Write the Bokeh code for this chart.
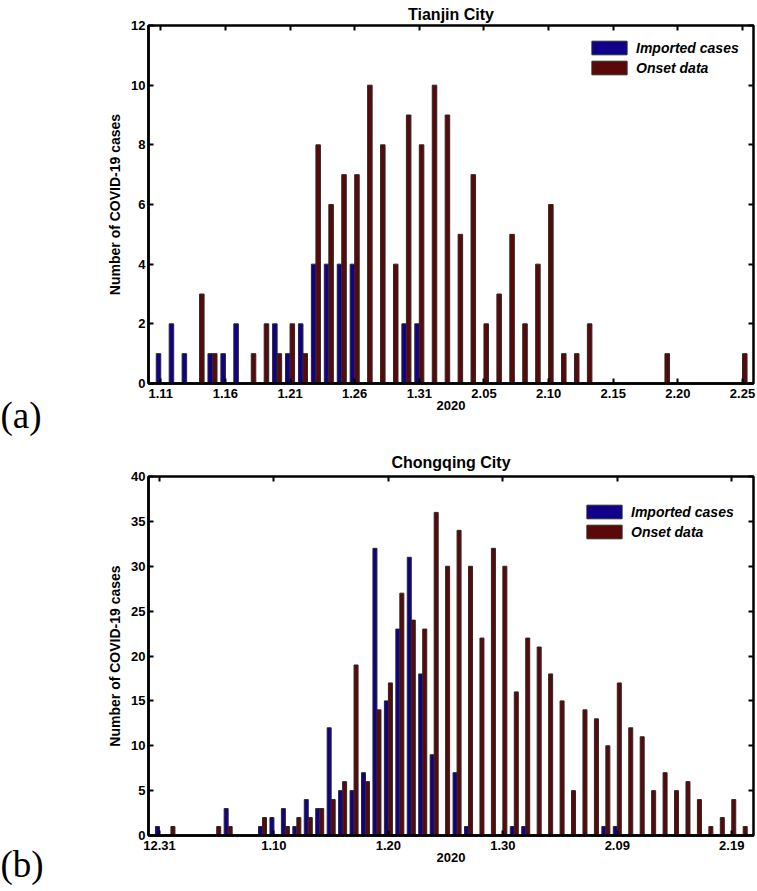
from bokeh.plotting import figure
from bokeh.models import (Range1d, FixedTicker, LinearAxis, Legend, Title,
                          LegendItem, ColumnDataSource)
from bokeh.layouts import column, row
from bokeh.transform import dodge
from bokeh.embed import file_html
from bokeh.resources import INLINE

# ---------------- data ----------------
tj_dates = ([f"1.{d}" for d in range(11, 32)] +
            [f"2.{d:02d}" for d in range(1, 26)])
tj_imported = [1, 2, 1, 0, 1, 1, 2, 0, 0, 2, 1, 2, 4, 4, 4, 4, 0, 0, 0, 2, 2,
               0, 0, 0, 0, 0, 0, 0, 0, 0, 0, 0, 0, 0, 0, 0, 0, 0, 0, 0, 0,
               0, 0, 0, 0, 0]
tj_onset = [0, 0, 0, 3, 1, 0, 0, 1, 2, 1, 2, 1, 8, 6, 7, 7, 10, 8, 4, 9, 8,
            10, 9, 5, 7, 2, 3, 5, 2, 4, 6, 1, 1, 2, 0, 0, 0, 0, 0, 1, 0,
            0, 0, 0, 0, 1]
tj_tick_labels = ["1.11", "1.16", "1.21", "1.26", "1.31",
                  "2.05", "2.10", "2.15", "2.20", "2.25"]
tj_yticks = [0, 2, 4, 6, 8, 10, 12]

cq_dates = (["12.31"] + [f"1.{d:02d}" for d in range(1, 32)] +
            [f"2.{d:02d}" for d in range(1, 21)])
cq_imported = [1, 0, 0, 0, 0, 0, 3, 0, 0, 1, 2, 3, 1, 4, 3, 12, 5, 5, 7, 32,
               15, 23, 31, 18, 9, 0, 7, 1, 0, 0, 0, 1, 1, 0, 0, 0, 0, 0, 0,
               1, 1, 0, 0, 0, 0, 0, 0, 0, 0, 0, 0, 0]
cq_onset = [0, 1, 0, 0, 0, 1, 1, 0, 0, 2, 0, 1, 2, 2, 3, 4, 6, 19, 6, 14,
            17, 27, 24, 23, 36, 30, 34, 30, 22, 32, 30, 16, 22, 21, 18, 15,
            5, 14, 13, 10, 17, 12, 11, 5, 7, 5, 6, 4, 1, 2, 4, 1]
cq_tick_labels = ["12.31", "1.10", "1.20", "1.30", "2.09", "2.19"]
cq_yticks = [0, 5, 10, 15, 20, 25, 30, 35, 40]

BLUE = "#10008a"
RED = "#5a0808"
FONT = "Liberation Sans"
LETTER_W = 50


def letter_panel(letter, height, border_top, border_bottom, standoff):
    q = figure(width=LETTER_W, height=height, output_backend="svg",
               toolbar_location=None, x_axis_type=None, y_axis_type=None,
               x_range=Range1d(0, 1), y_range=Range1d(0, 1),
               min_border_left=0, min_border_right=0,
               min_border_top=border_top, min_border_bottom=border_bottom,
               outline_line_color=None)
    q.xgrid.visible = False
    q.ygrid.visible = False
    q.add_layout(Title(text=letter, align="left", standoff=standoff,
                       text_font="Liberation Serif", text_font_size="37px",
                       text_font_style="normal", text_color="black"),
                 "below")
    return q


def make_panel(title, dates, imported, onset, yticks, tick_labels, xr,
               height, border_top, border_bottom, title_standoff,
               legend_xy):
    src = ColumnDataSource(dict(x=list(range(len(dates))), imp=imported,
                                ons=onset))
    p = figure(width=757 - LETTER_W, height=height, output_backend="svg",
               toolbar_location=None, x_range=Range1d(*xr),
               y_range=Range1d(yticks[0], yticks[-1]),
               min_border_left=148 - LETTER_W, min_border_right=4,
               min_border_top=border_top, min_border_bottom=border_bottom,
               background_fill_color="white", border_fill_color="white")
    p.outline_line_color = "black"
    p.outline_line_width = 2.5
    p.outline_line_alpha = 1
    p.xgrid.visible = False
    p.ygrid.visible = False

    p.title.text = title
    p.title.align = "center"
    p.title.text_font = FONT
    p.title.text_font_style = "bold"
    p.title.text_font_size = "16px"
    p.title.text_color = "black"
    p.title.standoff = title_standoff

    bw = 0.35
    r1 = p.vbar(x=dodge("x", -bw / 2, range=p.x_range), top="imp", bottom=0,
                width=bw, source=src, fill_color=BLUE, line_color="#2a2a2a",
                line_width=1)
    r2 = p.vbar(x=dodge("x", bw / 2, range=p.x_range), top="ons", bottom=0,
                width=bw, source=src, fill_color=RED, line_color="#2a2a2a",
                line_width=1)

    tick_pos = [dates.index(t) for t in tick_labels]
    xt = FixedTicker(ticks=tick_pos)
    yt = FixedTicker(ticks=yticks)

    xa = p.xaxis[0]
    xa.ticker = xt
    xa.major_label_overrides = {k: v for k, v in zip(tick_pos, tick_labels)}
    xa.axis_label = "2020"
    ya = p.yaxis[0]
    ya.ticker = yt
    ya.axis_label = "Number of COVID-19 cases"
    for ax in (xa, ya):
        ax.axis_line_width = 2.5
        ax.axis_line_color = "black"
        ax.major_tick_in = 5
        ax.major_tick_out = 0
        ax.major_tick_line_width = 2
        ax.minor_tick_line_color = None
        ax.major_label_text_font = FONT
        ax.major_label_text_font_style = "bold"
        ax.major_label_text_font_size = "13px"
        ax.major_label_text_color = "black"
        ax.axis_label_text_font = FONT
        ax.axis_label_text_font_style = "bold"
        ax.axis_label_text_color = "black"
    xa.axis_label_text_font_size = "13px"
    xa.major_label_standoff = 5
    xa.axis_label_standoff = 0
    ya.axis_label_text_font_size = "14px"
    ya.major_label_standoff = 3
    ya.axis_label_standoff = 5

    # mirrored ticks on top and right
    for side, tk in (("above", xt), ("right", yt)):
        ax = LinearAxis(ticker=tk, axis_line_color=None, major_tick_in=5,
                        major_tick_out=0, major_tick_line_width=2,
                        minor_tick_line_color=None, major_label_standoff=0,
                        major_label_text_font_size="0px",
                        major_label_text_alpha=0)
        ax.major_label_overrides = {k: "" for k in tk.ticks}
        p.add_layout(ax, side)

    legend = Legend(items=[LegendItem(label="Imported cases", renderers=[r1]),
                           LegendItem(label="Onset data", renderers=[r2])],
                    location=legend_xy, orientation="vertical",
                    glyph_width=44, glyph_height=17, label_height=17,
                    label_standoff=5, spacing=3, padding=0,
                    border_line_color=None, background_fill_alpha=0,
                    label_text_font=FONT, label_text_font_style="bold italic",
                    label_text_font_size="14px", label_text_color="black")
    p.add_layout(legend)
    return p


p1 = make_panel("Tianjin City", tj_dates, tj_imported, tj_onset, tj_yticks,
                tj_tick_labels, (-0.95, 45.85), 445, 25, 62, 6, (439, 307))
p2 = make_panel("Chongqing City", cq_dates, cq_imported, cq_onset, cq_yticks,
                cq_tick_labels, (-0.96, 51.9), 446, 31, 56, 12, (434, 295))

l1 = letter_panel("(a)", 445, 25, 62, 18)
l2 = letter_panel("(b)", 446, 31, 56, 13)

layout = column(row(l1, p1, spacing=0), row(l2, p2, spacing=0), spacing=0)
open("out.html", "w").write(file_html(layout, INLINE))
